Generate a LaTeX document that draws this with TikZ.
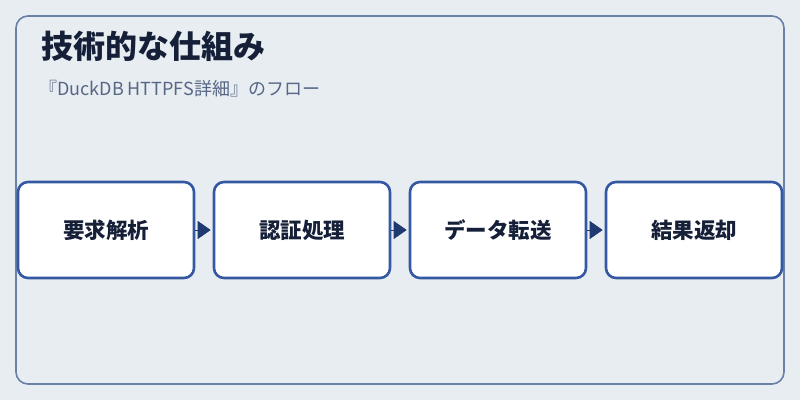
\documentclass[tikz,border=0pt]{standalone}
\usepackage{fontspec}
\newfontfamily\cjk{Noto Sans CJK JP}
\usetikzlibrary{arrows.meta}
\definecolor{bg}{HTML}{E8EDF2}
\definecolor{frame}{HTML}{6A7FAA}
\definecolor{boxline}{HTML}{3558A2}
\definecolor{ink}{HTML}{152038}
\definecolor{sub}{HTML}{566685}
\definecolor{arrowc}{HTML}{1F3A70}
\tikzset{
  stepbox/.style={draw=boxline, line width=2.6pt, fill=white, rounded corners=10pt,
    minimum width=176pt, minimum height=96pt, inner sep=0pt,
    font=\cjk\bfseries\fontsize{21.5}{26}\selectfont, text=ink},
  flow/.style={draw=arrowc, line width=0.8pt, -{Triangle[length=13pt,width=18pt]}, shorten >=2pt, fill=arrowc}
}
\begin{document}
\begin{tikzpicture}[x=1pt,y=-1pt]
\useasboundingbox (0,0) rectangle (800,400);
\fill[bg] (0,0) rectangle (800,400);
\draw[frame, line width=1.6pt, rounded corners=12pt] (16,16) rectangle (784,384);
\node[anchor=base west, inner sep=0pt, font=\cjk\bfseries\fontsize{32}{38}\selectfont, text=ink] (title) at (41,58) {技術的な仕組み};
\node[anchor=base west, inner sep=0pt, font=\cjk\fontsize{18}{22}\selectfont, text=sub] (subtitle) at (39,95) {『DuckDB HTTPFS詳細』のフロー};
\node[stepbox] (s1) at (106,230) {要求解析};
\node[stepbox] (s2) at (302,230) {認証処理};
\node[stepbox] (s3) at (498,230) {データ転送};
\node[stepbox] (s4) at (694,230) {結果返却};
\draw[flow] (s1.east) -- (s2.west);
\draw[flow] (s2.east) -- (s3.west);
\draw[flow] (s3.east) -- (s4.west);
\end{tikzpicture}
\end{document}
